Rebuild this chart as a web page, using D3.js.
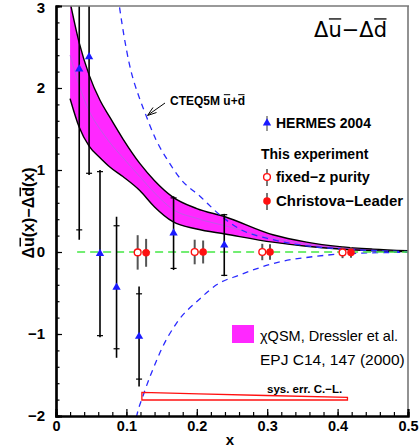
<!DOCTYPE html>
<html>
<head>
<meta charset="utf-8">
<script src="https://cdn.jsdelivr.net/npm/d3@7"></script>
<style>
    body { margin: 0; background: #fff; }
    svg { display: block; font-family: "Liberation Sans", Arial, sans-serif; }
</style>
</head>
<body>
<svg id="chart" width="420" height="448"></svg>
<script>
// ===================================================================
// DATA
// ===================================================================
const xTicks = [0, 0.1, 0.2, 0.3, 0.4, 0.5];
const yTicks = [-2, -1, 0, 1, 2, 3];

// HERMES 2004 (blue triangles)
const hermesX = [0.033, 0.047, 0.0625, 0.086, 0.118, 0.167, 0.239];
const hermesY = [2.23, 2.38, -0.02, -0.43, -1.03, 0.23, 0.085];
const hermesStat = [1.96, 1.42, 1.0, 0.75, 0.52, 0.43, 0.37];
const hermesTot = [2.08, 1.44, 1.02, 0.86, 0.61, 0.45, 0.38];

// This experiment: fixed-z purity (open) and Christova-Leader (filled)
const fixedX = [0.116, 0.197, 0.293, 0.407];
const fixedY = [-0.005, 0.0, 0.0, -0.005];
const fixedErr = [0.21, 0.15, 0.10, 0.07];
const clX = [0.128, 0.209, 0.304, 0.419];
const clY = [-0.01, 0.0, 0.0, -0.005];
const clErr = [0.17, 0.14, 0.095, 0.065];

// sys. err. C.-L. band
const sysX = [0.122, 0.203, 0.298, 0.414];
const sysErr = [0.094, 0.075, 0.055, 0.033];
const sysBase = -1.805;

// chiQSM band (Dressler et al.)
const bandX   = [0.02, 0.033, 0.047, 0.0625, 0.076, 0.095, 0.119, 0.14, 0.166, 0.2, 0.24, 0.308, 0.356, 0.403, 0.45, 0.5];
const bandHi  = [3.05, 2.55, 2.16, 1.85, 1.65, 1.38, 1.08, 0.87, 0.67, 0.53, 0.43, 0.21, 0.12, 0.065, 0.035, 0.016];
const bandLo  = [1.87, 1.52, 1.29, 1.15, 1.04, 0.92, 0.75, 0.55, 0.37, 0.28, 0.22, 0.12, 0.07, 0.036, 0.015, 0.005];
const bandMid = [2.40, 2.03, 1.72, 1.50, 1.34, 1.15, 0.92, 0.72, 0.52, 0.41, 0.32, 0.165, 0.095, 0.05, 0.025, 0.01];

// CTEQ5M u+d envelope (blue dashed)
const cteqUpX = [0.086, 0.09, 0.104, 0.118, 0.125, 0.142, 0.16, 0.178, 0.2045, 0.233, 0.261, 0.308, 0.356, 0.42, 0.5];
const cteqUpY = [3.25, 3.0, 2.30, 1.89, 1.73, 1.37, 1.10, 0.88, 0.68, 0.45, 0.28, 0.15, 0.075, 0.03, 0.005];
const cteqLoX = [0.111, 0.1146, 0.125, 0.143, 0.148, 0.171, 0.2045, 0.228, 0.261, 0.318, 0.365, 0.413, 0.5];
const cteqLoY = [-2.15, -2.0, -1.72, -1.32, -1.22, -0.87, -0.57, -0.40, -0.28, -0.12, -0.057, -0.02, -0.003];

// zero line range
const zeroX = [0.03, 0.5];

// ===================================================================
// CHART
// ===================================================================
const svg = d3.select('#chart');
const plot = { left: 56, right: 408, top: 6, bottom: 416 };

const x = d3.scaleLinear().domain([0, 0.5]).range([plot.left, plot.right]);
const y = d3.scaleLinear().domain([-2, 3]).range([plot.bottom, plot.top]);

svg.append('defs').append('clipPath').attr('id', 'clip')
    .append('rect')
    .attr('x', plot.left).attr('y', plot.top)
    .attr('width', plot.right - plot.left).attr('height', plot.bottom - plot.top);

const g = svg.append('g').attr('clip-path', 'url(#clip)');

// chiQSM band
const bandData = bandX.map((d, i) => ({ x: d, hi: bandHi[i], lo: bandLo[i], mid: bandMid[i] }));
g.append('path')
    .datum(bandData)
    .attr('d', d3.area().x(d => x(d.x)).y0(d => y(d.lo)).y1(d => y(d.hi)).curve(d3.curveMonotoneX))
    .attr('fill', '#ff28ff');
g.append('path')
    .datum(bandData)
    .attr('d', d3.line().x(d => x(d.x)).y(d => y(d.mid)).curve(d3.curveMonotoneX))
    .attr('fill', 'none').attr('stroke', '#c05ae8').attr('stroke-width', 1);
['hi', 'lo'].forEach(k => {
    g.append('path')
        .datum(bandData)
        .attr('d', d3.line().x(d => x(d.x)).y(d => y(d[k])).curve(d3.curveMonotoneX))
        .attr('fill', 'none').attr('stroke', '#000').attr('stroke-width', 1.4);
});

// CTEQ curves
[[cteqUpX, cteqUpY], [cteqLoX, cteqLoY]].forEach(([xs, ys]) => {
    g.append('path')
        .datum(xs.map((d, i) => [d, ys[i]]))
        .attr('d', d3.line().x(d => x(d[0])).y(d => y(d[1])).curve(d3.curveMonotoneX))
        .attr('fill', 'none').attr('stroke', '#2a2aff')
        .attr('stroke-width', 1.3).attr('stroke-dasharray', '6,5');
});

// zero line
g.append('line')
    .attr('x1', x(zeroX[0])).attr('x2', x(zeroX[1]))
    .attr('y1', y(0)).attr('y2', y(0))
    .attr('stroke', '#44e844').attr('stroke-width', 1.6).attr('stroke-dasharray', '8,5');

// sys. err. band
const sysData = sysX.map((d, i) => ({ x: d, e: sysErr[i] }));
g.append('path')
    .datum(sysData)
    .attr('d', d3.area().x(d => x(d.x)).y0(y(sysBase)).y1(d => y(sysBase + d.e)))
    .attr('fill', 'none').attr('stroke', '#ff1010').attr('stroke-width', 1.3);

// HERMES points
const hermes = hermesX.map((d, i) => ({ x: d, y: hermesY[i], s: hermesStat[i], t: hermesTot[i] }));
const hg = g.selectAll('.hermes').data(hermes).join('g').attr('class', 'hermes');
hg.append('line')
    .attr('x1', d => x(d.x)).attr('x2', d => x(d.x))
    .attr('y1', d => y(d.y - d.t)).attr('y2', d => y(d.y + d.t))
    .attr('stroke', '#000').attr('stroke-width', 1.6);
[-1, 1].forEach(sgn => {
    hg.append('line')
        .attr('x1', d => x(d.x) - 3).attr('x2', d => x(d.x) + 3)
        .attr('y1', d => y(d.y + sgn * d.s)).attr('y2', d => y(d.y + sgn * d.s))
        .attr('stroke', '#000').attr('stroke-width', 1.2);
});
const tri = d3.symbol(d3.symbolTriangle, 30);
hg.append('path')
    .attr('d', tri)
    .attr('transform', d => `translate(${x(d.x)},${y(d.y)})`)
    .attr('fill', '#1a1aff');

// This experiment points
function drawPoints(xs, ys, errs, filled) {
    const data = xs.map((d, i) => ({ x: d, y: ys[i], e: errs[i] }));
    const sel = g.append('g').selectAll('g').data(data).join('g');
    sel.append('line')
        .attr('x1', d => x(d.x)).attr('x2', d => x(d.x))
        .attr('y1', d => y(d.y - d.e)).attr('y2', d => y(d.y + d.e))
        .attr('stroke', '#555').attr('stroke-width', 2);
    sel.append('circle')
        .attr('cx', d => x(d.x)).attr('cy', d => y(d.y))
        .attr('r', filled ? 3.8 : 3.4)
        .attr('fill', filled ? '#ff1010' : '#fff')
        .attr('stroke', '#ff1010').attr('stroke-width', filled ? 0 : 1.4);
}
drawPoints(fixedX, fixedY, fixedErr, false);
drawPoints(clX, clY, clErr, true);

// Frame (top/right grey)
svg.append('line').attr('x1', plot.left).attr('x2', plot.right + 1)
    .attr('y1', plot.top).attr('y2', plot.top)
    .attr('stroke', '#777').attr('stroke-width', 1.6);
svg.append('line').attr('x1', plot.right).attr('x2', plot.right)
    .attr('y1', plot.top).attr('y2', plot.bottom)
    .attr('stroke', '#777').attr('stroke-width', 1.6);

// Axes
const axisFont = size => sel => sel.selectAll('text')
    .style('font-size', size).style('font-weight', 'bold')
    .style('font-family', '"Liberation Sans", Arial, sans-serif').attr('fill', '#000');

const xMinor = svg.append('g')
    .attr('transform', `translate(0,${plot.bottom})`)
    .call(d3.axisBottom(x).tickValues(d3.range(0, 0.5001, 0.02)).tickSize(-4).tickFormat(''));
const xAxis = svg.append('g')
    .attr('transform', `translate(0,${plot.bottom})`)
    .call(d3.axisBottom(x).tickValues(xTicks).tickSize(-7).tickPadding(5)
        .tickFormat(d => d === 0 ? '0' : d3.format('.1f')(d)))
    .call(axisFont('14.5px'));

const yMinor = svg.append('g')
    .attr('transform', `translate(${plot.left},0)`)
    .call(d3.axisLeft(y).tickValues(d3.range(-2, 3.001, 0.2)).tickSize(-3.5).tickFormat(''));
const yAxis = svg.append('g')
    .attr('transform', `translate(${plot.left},0)`)
    .call(d3.axisLeft(y).tickValues(yTicks).tickSize(-6).tickPadding(11).tickFormat(d3.format('d')))
    .call(axisFont('15px'));
// keep the top label inside the picture
yAxis.selectAll('.tick text').filter(d => d === 3).attr('dy', '0.42em');

[xMinor, xAxis, yMinor, yAxis].forEach(a => {
    a.select('.domain').attr('stroke', '#000').attr('stroke-width', 2.2);
    a.selectAll('.tick line').attr('stroke', '#000').attr('stroke-width', 1.2);
});

// Text with overlined letters: parts = [[string, overline?], ...]
function overText(parent, parts, size, opts) {
    const t = parent.append('text')
        .style('font-size', size + 'px')
        .style('font-weight', opts.bold ? 'bold' : 'normal')
        .style('font-family', opts.family || null)
        .attr('text-anchor', opts.anchor || 'start')
        .text(parts.map(p => p[0]).join(''));
    const node = t.node();
    let idx = 0;
    parts.forEach(([s, over]) => {
        if (over) {
            const a = node.getStartPositionOfChar(idx);
            const b = node.getEndPositionOfChar(idx + s.length - 1);
            parent.append('line')
                .attr('x1', a.x + 0.5).attr('x2', b.x - 0.5)
                .attr('y1', -size * 0.86).attr('y2', -size * 0.86)
                .attr('stroke', '#000').attr('stroke-width', opts.lw || 1.2);
        }
        idx += s.length;
    });
    return t;
}

// Axis titles
svg.append('text')
    .attr('x', 230).attr('y', 445)
    .attr('text-anchor', 'middle')
    .style('font-size', '15px').style('font-weight', 'bold')
    .text('x');

overText(svg.append('g').attr('transform', 'translate(34,213) rotate(-90)'),
    [['Δ', false], ['u', true], ['(x)−Δ', false], ['d', true], ['(x)', false]],
    16, { bold: true, anchor: 'middle', lw: 1.5 });

// Title
overText(svg.append('g').attr('transform', 'translate(387,37)'),
    [['Δ', false], ['u', true], ['−Δ', false], ['d', true]],
    21, { anchor: 'end', family: '"DejaVu Sans", sans-serif', lw: 1.3 });

// CTEQ annotation
overText(svg.append('g').attr('transform', 'translate(170,105)'),
    [['CTEQ5M ', false], ['u', true], ['+', false], ['d', true]],
    12, { bold: true, lw: 1 });

svg.append('line')
    .attr('x1', 165).attr('y1', 103).attr('x2', 148).attr('y2', 115)
    .attr('stroke', '#000').attr('stroke-width', 1);
svg.append('path')
    .attr('d', 'M153,107.5 L147.5,115.5 L156.5,112.5')
    .attr('fill', 'none').attr('stroke', '#000').attr('stroke-width', 1);

// Legend (upper)
const legFont = sel => sel.style('font-size', '14px').style('font-weight', 'bold');
const legX = 267;

svg.append('line').attr('x1', legX).attr('x2', legX).attr('y1', 116).attr('y2', 131)
    .attr('stroke', '#555').attr('stroke-width', 1.2);
svg.append('path').attr('d', tri).attr('transform', `translate(${legX},123)`).attr('fill', '#1a1aff');
svg.append('text').attr('x', 276).attr('y', 128).text('HERMES 2004').call(legFont);

svg.append('text').attr('x', 261).attr('y', 159).text('This experiment').call(legFont);

svg.append('line').attr('x1', legX).attr('x2', legX).attr('y1', 169).attr('y2', 186)
    .attr('stroke', '#555').attr('stroke-width', 1.6);
svg.append('circle').attr('cx', legX).attr('cy', 177).attr('r', 3.4)
    .attr('fill', '#fff').attr('stroke', '#ff1010').attr('stroke-width', 1.4);
svg.append('text').attr('x', 276).attr('y', 182).text('fixed−z purity').call(legFont)
    .style('font-size', '14.5px');

svg.append('line').attr('x1', legX).attr('x2', legX).attr('y1', 193).attr('y2', 210)
    .attr('stroke', '#555').attr('stroke-width', 1.6);
svg.append('circle').attr('cx', legX).attr('cy', 201).attr('r', 3.8).attr('fill', '#ff1010');
svg.append('text').attr('x', 276).attr('y', 206).text('Christova−Leader').call(legFont)
    .style('font-size', '15px');

// Legend (lower)
svg.append('rect').attr('x', 232).attr('y', 325).attr('width', 22).attr('height', 18)
    .attr('fill', '#ff28ff');
svg.append('text').attr('x', 260).attr('y', 341)
    .style('font-size', '14.5px')
    .text('χQSM, Dressler et al.');
svg.append('text').attr('x', 260).attr('y', 365)
    .style('font-size', '15.5px')
    .text('EPJ C14, 147 (2000)');
svg.append('text').attr('x', 267).attr('y', 393)
    .style('font-size', '11.5px').style('font-weight', 'bold')
    .text('sys. err. C.−L.');
</script>
</body>
</html>
